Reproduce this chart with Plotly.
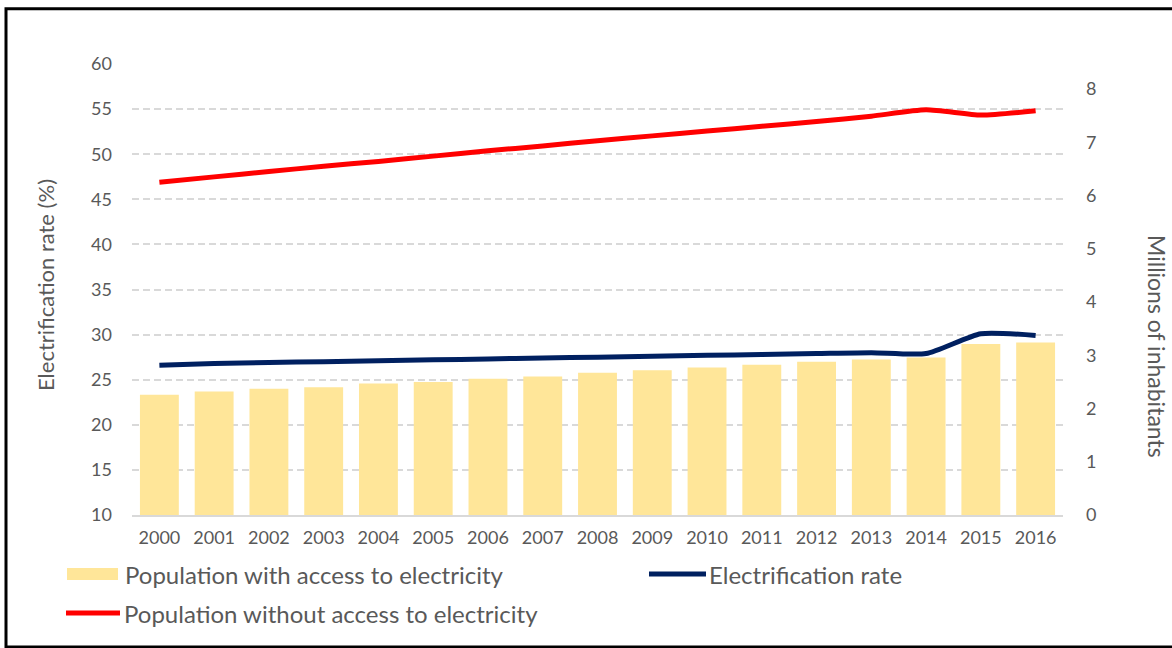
import plotly.graph_objects as go

# ---- data ----------------------------------------------------------------
years = [str(y) for y in range(2000, 2017)]

# Millions of inhabitants with access to electricity (right axis)
pop_with_access = [2.26, 2.32, 2.37, 2.40, 2.47, 2.50, 2.56, 2.60, 2.67,
                   2.72, 2.77, 2.82, 2.88, 2.92, 2.96, 3.21, 3.24]

# Millions of inhabitants without access to electricity (right axis)
pop_without_access = [6.25, 6.35, 6.45, 6.55, 6.64, 6.74, 6.84, 6.93, 7.03,
                      7.12, 7.21, 7.30, 7.39, 7.49, 7.61, 7.51, 7.59]

# Electrification rate in % (left axis)
electrification_rate = [26.6, 26.8, 26.9, 27.0, 27.1, 27.2, 27.3, 27.4, 27.5,
                        27.6, 27.7, 27.8, 27.9, 28.0, 27.9, 30.1, 29.9]

left_ticks = list(range(10, 61, 5))
right_ticks = list(range(0, 9))

name_with = "Population with access to electricity"
name_rate = "Electrification rate"
name_without = "Population without access to electricity"

# ---- styling ---------------------------------------------------------------
FONT = "Lato"
GREY = "#595959"
GRID = "#D9D9D9"
BAR_COLOR = "#FFE699"
RED = "#FF0000"
NAVY = "#002060"

W, H = 1172, 648
L, R, T, B = 132, 109, 64, 133
plot_w = W - L - R
plot_h = H - T - B


def px_x(px):
    return (px - L) / plot_w


def px_y(py):
    return (H - B - py) / plot_h


fig = go.Figure()

fig.add_trace(go.Bar(
    x=years, y=pop_with_access, name=name_with, yaxis="y2",
    marker=dict(color=BAR_COLOR, line=dict(width=0)),
    showlegend=False,
))

fig.add_trace(go.Scatter(
    x=years, y=electrification_rate, name=name_rate, yaxis="y",
    mode="lines", line=dict(color=NAVY, width=5, shape="spline", smoothing=0.6),
    showlegend=False,
))

fig.add_trace(go.Scatter(
    x=years, y=pop_without_access, name=name_without, yaxis="y2",
    mode="lines", line=dict(color=RED, width=5, shape="spline", smoothing=0.6),
    showlegend=False,
))

tick_font = dict(family=FONT, size=18, color=GREY)

fig.update_layout(
    width=W, height=H,
    margin=dict(l=L, r=R, t=T, b=B, pad=0),
    paper_bgcolor="white", plot_bgcolor="white",
    bargap=0.29,
    font=dict(family=FONT, color=GREY),
    xaxis=dict(
        type="category", tickfont=tick_font, showgrid=False,
        showline=True, linecolor=GRID, linewidth=1.5,
        ticks="", ticklabelstandoff=6,
    ),
    yaxis=dict(
        range=[10, 60], tickvals=left_ticks, tickfont=tick_font,
        showgrid=True, gridcolor=GRID, gridwidth=1.5, griddash="7px,4px",
        zeroline=False, showline=False, ticks="", ticklabelstandoff=19,
    ),
    yaxis2=dict(
        range=[0, 8.47], tickvals=right_ticks, tickfont=tick_font,
        overlaying="y", side="right", showgrid=False, zeroline=False,
        showline=False, ticks="", ticklabelstandoff=22,
    ),
)

annotations = [
    dict(text="Electrification rate (%)", xref="paper", yref="paper",
         x=px_x(45), y=px_y(285), textangle=-90, showarrow=False,
         font=dict(family=FONT, size=22, color=GREY),
         xanchor="center", yanchor="middle"),
    dict(text="Millions of inhabitants", xref="paper", yref="paper",
         x=px_x(1157), y=px_y(346), textangle=90, showarrow=False,
         font=dict(family=FONT, size=23, color=GREY),
         xanchor="center", yanchor="middle"),
]

# legend drawn as swatches + labels below the plot
legend_font = dict(family=FONT, size=24, color=GREY)
legend_items = [
    ("bar", BAR_COLOR, name_with, 67, 118, 123, 574),
    ("line", NAVY, name_rate, 649, 706, 707, 574),
    ("line", RED, name_without, 66, 120, 122, 613),
]
shapes = []
for kind, color, label, sx0, sx1, tx, cy in legend_items:
    if kind == "bar":
        shapes.append(dict(type="rect", xref="paper", yref="paper",
                           x0=px_x(sx0), x1=px_x(sx1),
                           y0=px_y(cy + 6), y1=px_y(cy - 6),
                           fillcolor=color, line=dict(width=0)))
    else:
        shapes.append(dict(type="line", xref="paper", yref="paper",
                           x0=px_x(sx0), x1=px_x(sx1),
                           y0=px_y(cy), y1=px_y(cy),
                           line=dict(color=color, width=5)))
    annotations.append(dict(text=label, xref="paper", yref="paper",
                            x=px_x(tx), y=px_y(cy), showarrow=False,
                            xanchor="left", yanchor="middle",
                            font=legend_font))

# frame around the chart
shapes.append(dict(type="rect", xref="paper", yref="paper",
                   x0=px_x(6), x1=px_x(1180), y0=px_y(647), y1=px_y(8.7),
                   line=dict(color="black", width=3), fillcolor="rgba(0,0,0,0)",
                   layer="above"))

fig.update_layout(annotations=annotations, shapes=shapes)

fig.write_html("out.html")
